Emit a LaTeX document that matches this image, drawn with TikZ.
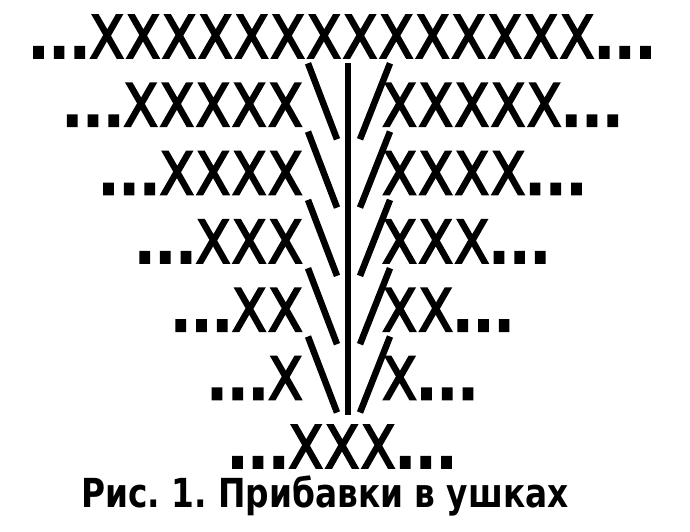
\documentclass[tikz,border=0pt]{standalone}
\usepackage{fontspec}
\setmainfont{DejaVu Sans}
\newfontfamily\chartfont[FakeStretch=0.86,FakeBold=3,LetterSpace=2.4]{DejaVu Sans}
\newfontfamily\captionfont[FakeStretch=0.82]{DejaVu Sans}
\usetikzlibrary{positioning}
\newcommand{\tridots}{{\bfseries...}}
\tikzset{
    x=1pt,
    y=-1pt,
    row/.style = {
        font=\chartfont\fontsize{59}{60}\selectfont,
        inner sep=0pt,
        anchor=base
    },
    leftpart/.style = {
        row,
        anchor=base east
    },
    rightpart/.style = {
        row,
        anchor=base west
    },
    stroke/.style = {
        line width=6.5pt,
        line cap=butt
    },
    caption/.style = {
        font=\captionfont\bfseries\fontsize{40}{42}\selectfont\frenchspacing,
        inner sep=0pt,
        anchor=base
    },
}
\begin{document}
\begin{tikzpicture}
    \useasboundingbox (0,0) rectangle (690,532);
    % top row
    \node[row] (r1) at (342,58) {\tridots XXXXXXXXXXXXXX\tridots};
    % rows with increases
    \foreach \k/\xs in {2/XXXXX,3/XXXX,4/XXX,5/XX,6/X}{
        \pgfmathsetmacro{\base}{58+(\k-1)*68.3}
        \node[leftpart] (r\k l) at (303,\base) {\tridots\xs};
        \node[rightpart] (r\k r) at (382,\base) {\xs\tridots};
        \draw[stroke] (308,\base-63) -- (337,\base+13);
        \draw[stroke] (390,\base-63) -- (360,\base+13);
    }
    % bottom row
    \node[row] (r7) at (342,468) {\tridots XXX\tridots};
    % centre line
    \coordinate (top) at (348,63);
    \coordinate (bot) at (348,415);
    \draw[stroke] (top) -- (bot);
    \node[caption] (cap) at (325,507) {Рис. 1. Прибавки в ушках};
\end{tikzpicture}
\end{document}
